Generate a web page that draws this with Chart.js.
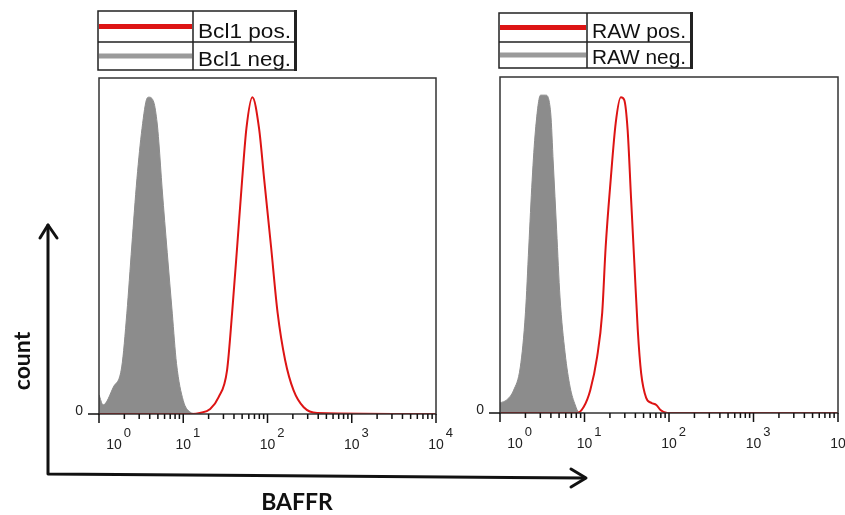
<!DOCTYPE html>
<html lang="en">
<head>
<meta charset="UTF-8">
<title>BAFFR staining</title>
<script src="https://cdn.jsdelivr.net/npm/chart.js@4"></script>
<style>
  body { margin: 0; background: #fff; }
  #page { position: relative; width: 845px; height: 515px; overflow: hidden; background: #fff; }
  #page canvas { position: absolute; top: 0; }
  #leftChart { left: 0; }
  #rightChart { left: 460px; }
  #axes { position: absolute; left: 0; top: 0; }
</style>
</head>
<body>
<div id="page">
  <canvas id="leftChart" width="460" height="460"></canvas>
  <canvas id="rightChart" width="385" height="460"></canvas>
  <svg id="axes" width="845" height="515">
    <g fill="none" stroke="#111" stroke-width="3" stroke-linejoin="round" stroke-linecap="round">
      <path d="M48 225 L48 474 L585 478"/>
      <path d="M40 238 L48 225 L57 238"/>
      <path d="M571 469 L586 478 L571 487"/>
    </g>
    <text x="297" y="510" font-family="Lato" font-weight="bold" font-size="23" text-anchor="middle" fill="#111">BAFFR</text>
    <text transform="translate(30 361) rotate(-90)" font-family="Lato" font-weight="bold" font-size="23" text-anchor="middle" fill="#111">count</text>
  </svg>
</div>
<script>
// histogram traces: fluorescence intensity (x) vs % of max count (y)
const bcl1PosX = [1, 12.6, 15.8, 20.9, 26.3, 33.1, 38.0, 43.7, 50.1, 56.2, 66.1, 79.4, 91.2, 110, 132, 162, 204, 269, 389, 10000];
const bcl1PosY = [0, 0, 0.3, 1.5, 5, 13, 30, 50, 70, 85, 94.3, 85, 70, 50, 30, 16, 7, 2, 0.3, 0];
const bcl1NegX = [1.00, 1.12, 1.48, 1.86, 2.14, 2.45, 2.82, 3.24, 3.72, 3.90, 4.47, 4.90, 5.13, 5.62, 6.46, 7.41, 8.32, 10.0, 12.0, 14.5];
const bcl1NegY = [5.7, 2.7, 8.0, 14.0, 30.0, 50.0, 70.0, 85.0, 94.0, 94.3, 92.8, 86.6, 81.0, 67.0, 48.0, 30.0, 15.0, 4.0, 0.6, 0];

const rawPosX = [1, 8.13, 9.77, 11.7, 14.1, 16.2, 17.8, 20.4, 23.4, 26.9, 29.5, 32.4, 35.5, 38.9, 42.7, 46.8, 53.7, 61.7, 70.8, 79.4, 95.5, 10000];
const rawPosY = [0, 0, 1.8, 6.8, 16.7, 29.8, 49.4, 69.3, 86.3, 94.0, 93.2, 84.2, 64.3, 44.6, 24.7, 11.9, 4.5, 3.0, 2.4, 0.9, 0, 0];
const rawNegX = [1.00, 1.20, 1.45, 1.74, 2.00, 2.19, 2.40, 2.63, 3.02, 3.47, 3.98, 4.27, 4.68, 5.13, 5.89, 6.76, 7.76, 8.51, 10.0];
const rawNegY = [3.0, 3.9, 6.8, 13.7, 29.8, 49.4, 69.3, 84.2, 94.6, 94.6, 89.3, 74.4, 54.5, 34.5, 17.9, 7.7, 2.4, 0.3, 0];

// axis ticks
const xMajorTicks = [1, 10, 100, 1000, 10000];
const xMajorExponents = ['0', '1', '2', '3', '4'];
const xMinorTicks = [2, 3, 4, 5, 6, 7, 8, 9, 20, 30, 40, 50, 60, 70, 80, 90,
                     200, 300, 400, 500, 600, 700, 800, 900, 2000, 3000, 4000, 5000, 6000, 7000, 8000, 9000];
const yTicks = [0];
const yTickLabels = ['0'];

const POS_RED = '#dd1414';
const NEG_GRAY = '#8c8c8c';
const FONT = '"Liberation Sans", Arial, sans-serif';

function points(xs, ys) {
    return xs.map((x, i) => ({x: x, y: ys[i]}));
}

// frame, log ticks with superscript labels, and the boxed legend
const flowFrame = {
    id: 'flowFrame',
    afterDatasetsDraw(chart, args, opts) {
        const ctx = chart.ctx;
        const {left, right, top, bottom} = chart.chartArea;
        const xs = chart.scales.x, ys = chart.scales.y;
        ctx.save();

        ctx.strokeStyle = '#333';
        ctx.lineWidth = 1.5;
        ctx.strokeRect(left, top, right - left, bottom - top);

        ctx.strokeStyle = '#111';
        ctx.lineWidth = 1.5;
        ctx.beginPath();
        xMinorTicks.forEach(v => {
            const px = xs.getPixelForValue(v);
            ctx.moveTo(px, bottom);
            ctx.lineTo(px, bottom + 5);
        });
        xMajorTicks.forEach(v => {
            const px = xs.getPixelForValue(v);
            ctx.moveTo(px, bottom);
            ctx.lineTo(px, bottom + 9);
        });
        yTicks.forEach(v => {
            const py = ys.getPixelForValue(v);
            ctx.moveTo(left - 11, py);
            ctx.lineTo(left, py);
        });
        ctx.stroke();

        ctx.fillStyle = '#222';
        ctx.textBaseline = 'alphabetic';
        xMajorTicks.forEach((v, i) => {
            let px = xs.getPixelForValue(v);
            if (i === 0) px += 15;
            ctx.font = '14px ' + FONT;
            ctx.textAlign = 'center';
            ctx.fillText('10', px, bottom + 35);
            const w = ctx.measureText('10').width;
            ctx.font = '13px ' + FONT;
            ctx.textAlign = 'left';
            ctx.fillText(xMajorExponents[i], px + w / 2 + 2, bottom + 23);
        });
        ctx.font = '14px ' + FONT;
        ctx.textAlign = 'right';
        yTicks.forEach((v, i) => {
            ctx.fillText(yTickLabels[i], left - 16, ys.getPixelForValue(v) + 1);
        });

        // legend table
        const lg = opts.legend;
        const rows = [[lg.y0, lg.yMid], [lg.yMid, lg.y1]];
        chart.data.datasets.forEach((ds, i) => {
            const [r0, r1] = rows[i];
            const ly = (r0 + r1) / 2;
            ctx.strokeStyle = ds.legendColor;
            ctx.lineWidth = 5;
            ctx.beginPath();
            ctx.moveTo(lg.x0 + 1, ly);
            ctx.lineTo(lg.xDiv - 1, ly);
            ctx.stroke();

            ctx.font = '20px ' + FONT;
            ctx.textAlign = 'left';
            ctx.fillStyle = '#111';
            const tw = ctx.measureText(ds.label).width;
            ctx.save();
            ctx.translate(lg.xDiv + 5, r1 - 4);
            ctx.scale(lg.textWidth / tw, 1);
            ctx.fillText(ds.label, 0, 0);
            ctx.restore();
        });
        ctx.strokeStyle = '#222';
        ctx.lineWidth = 1.5;
        ctx.strokeRect(lg.x0, lg.y0, lg.x1 - lg.x0, lg.y1 - lg.y0);
        ctx.beginPath();
        ctx.moveTo(lg.x0, lg.yMid);
        ctx.lineTo(lg.x1, lg.yMid);
        ctx.moveTo(lg.xDiv, lg.y0);
        ctx.lineTo(lg.xDiv, lg.y1);
        ctx.stroke();
        ctx.fillStyle = '#222';
        ctx.fillRect(lg.x1 - 1, lg.y0 - 1, 3, lg.y1 - lg.y0 + 2);

        ctx.restore();
    }
};

function histogram(id, posLabel, posPts, negLabel, negPts, padding, legend) {
    return new Chart(document.getElementById(id), {
        type: 'line',
        data: {
            datasets: [{
                label: posLabel,
                data: posPts,
                borderColor: POS_RED,
                legendColor: POS_RED,
                borderWidth: 2,
                fill: false,
                pointRadius: 0,
                cubicInterpolationMode: 'monotone',
                order: 0
            }, {
                label: negLabel,
                data: negPts,
                borderColor: NEG_GRAY,
                backgroundColor: NEG_GRAY,
                legendColor: '#9a9a9a',
                borderWidth: 1,
                fill: 'origin',
                pointRadius: 0,
                cubicInterpolationMode: 'monotone',
                order: 1
            }]
        },
        options: {
            responsive: false,
            animation: false,
            devicePixelRatio: 1,
            layout: {padding: padding},
            scales: {
                x: {type: 'logarithmic', min: 1, max: 10000, display: false},
                y: {type: 'linear', min: 0, max: 100, display: false}
            },
            plugins: {
                legend: {display: false},
                tooltip: {enabled: false},
                flowFrame: {legend: legend}
            }
        },
        plugins: [flowFrame]
    });
}

histogram('leftChart',
    'Bcl1 pos.', points(bcl1PosX, bcl1PosY),
    'Bcl1 neg.', points(bcl1NegX, bcl1NegY),
    {left: 99, top: 78, right: 24, bottom: 46},
    {x0: 98, x1: 295, xDiv: 193, y0: 11, yMid: 42, y1: 70, textWidth: 93});

histogram('rightChart',
    'RAW pos.', points(rawPosX, rawPosY),
    'RAW neg.', points(rawNegX, rawNegY),
    {left: 40, top: 77, right: 7, bottom: 47},
    {x0: 39, x1: 231, xDiv: 127, y0: 13, yMid: 42, y1: 68, textWidth: 94});
</script>
</body>
</html>
